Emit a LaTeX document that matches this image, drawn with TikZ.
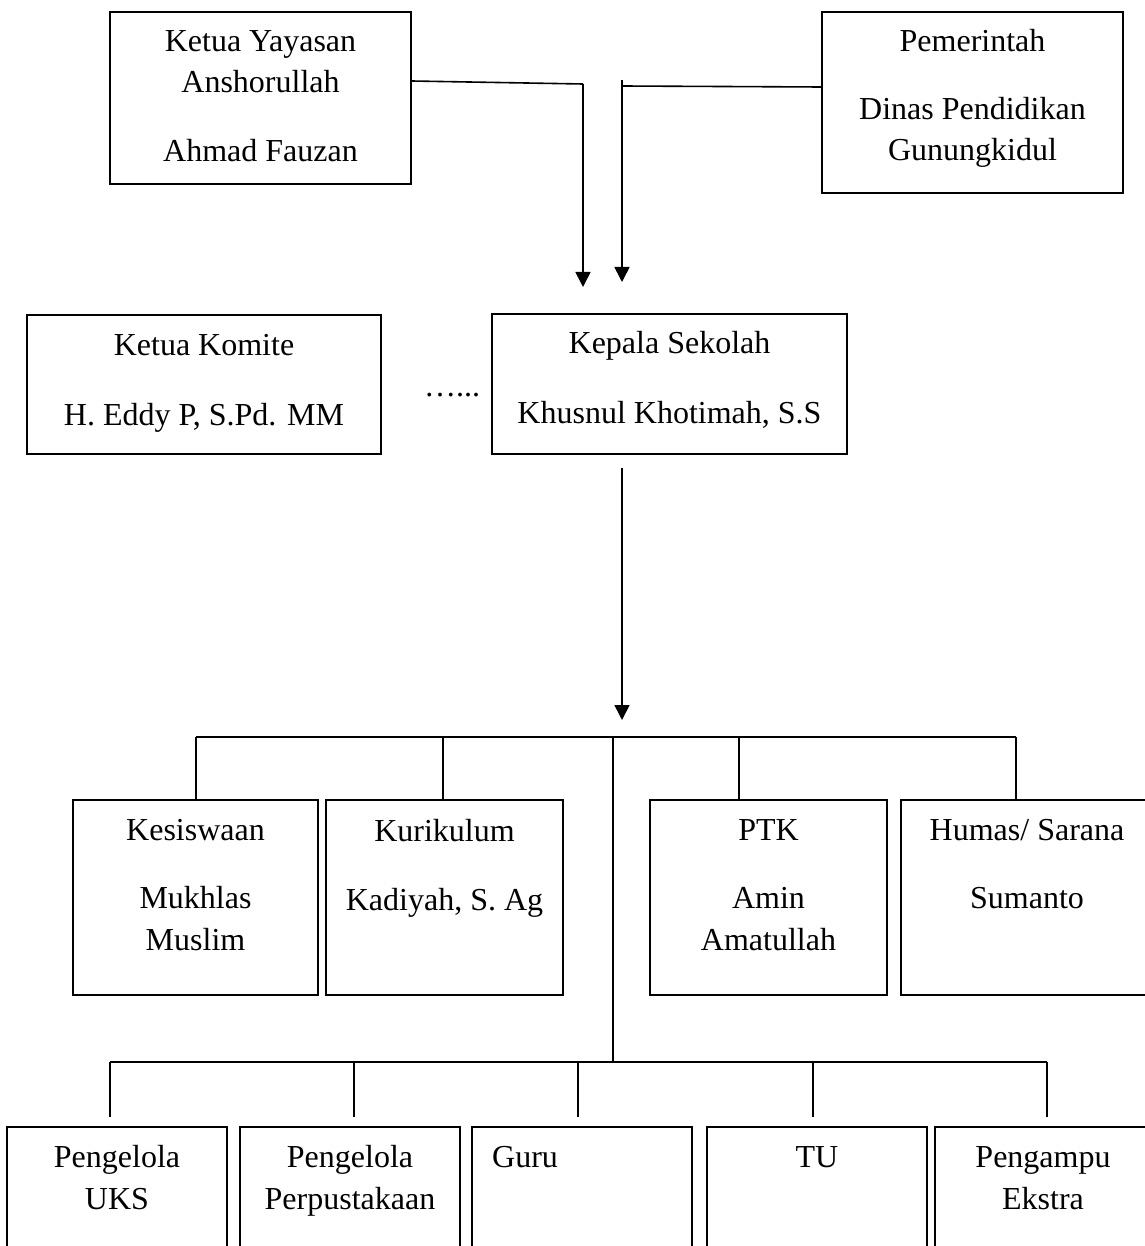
\documentclass[tikz,border=0pt]{standalone}
\usepackage{fontspec}
\setmainfont{Liberation Serif}
\usetikzlibrary{arrows.meta}
\begin{document}
\begin{tikzpicture}[x=1pt,y=-1pt,
  box/.style={draw, line width=1.6pt, inner sep=0pt},
  txt/.style={anchor=base, inner sep=0pt, font=\fontsize{32}{42}\selectfont},
  conn/.style={line width=1.6pt},
  arr/.style={line width=1.6pt, -{Triangle[width=15pt,length=15pt]}}]
\fill[white] (0,0) rectangle (1144,1246);
\useasboundingbox (0,0) rectangle (1144,1246);

% top boxes
\node[box, minimum width=301pt, minimum height=172pt] (yay) at (260.5,98) {};
\node[txt] (yay1) at (260.5,52) {Ketua Yayasan};
\node[txt] (yay2) at (260.5,93) {Anshorullah};
\node[txt] (yay3) at (260.5,162) {Ahmad Fauzan};

\node[box, minimum width=301pt, minimum height=181pt] (pem) at (972.5,102.5) {};
\node[txt] (pem1) at (972.5,52) {Pemerintah};
\node[txt] (pem2) at (972.5,120) {Dinas Pendidikan};
\node[txt] (pem3) at (972.5,161) {Gunungkidul};

% second row
\node[box, minimum width=354pt, minimum height=139pt] (kom) at (204,384.5) {};
\node[txt] (kom1) at (204,355) {Ketua Komite};
\node[txt] (kom2) at (204,425) {H. Eddy P, S.Pd. MM};

\node[txt, anchor=base west] (dots) at (424,396) {…...};

\node[box, minimum width=355pt, minimum height=140pt] (kep) at (669.5,384) {};
\node[txt] (kep1) at (669.5,353) {Kepala Sekolah};
\node[txt] (kep2) at (669.5,423) {Khusnul Khotimah, S.S};

% connectors from top
\coordinate (yayturn) at (583,84);
\coordinate (yaytip) at (583,287);
\coordinate (pemturn) at (622,86);
\coordinate (pemtop) at (622,80);
\coordinate (pemtip) at (622,282);
\draw[conn] (yay.east |- 0,81) -- (yayturn);
\draw[arr] (yayturn) -- (yaytip);
\draw[conn] (pem.west |- 0,87) -- (pemturn);
\draw[arr] (pemtop) -- (pemtip);

% kepala down arrow
\coordinate (kdown) at (622,468);
\coordinate (ktip) at (622,720);
\draw[arr] (kdown) -- (ktip);

% third row boxes
\node[box, minimum width=245pt, minimum height=195pt] (kes) at (195.5,897.5) {};
\node[txt] (kes1) at (195.5,840) {Kesiswaan};
\node[txt] (kes2) at (195.5,908) {Mukhlas};
\node[txt] (kes3) at (195.5,950) {Muslim};

\node[box, minimum width=237pt, minimum height=195pt] (kur) at (444.5,897.5) {};
\node[txt] (kur1) at (444.5,841) {Kurikulum};
\node[txt] (kur2) at (444.5,910) {Kadiyah, S. Ag};

\node[box, minimum width=237pt, minimum height=195pt] (ptk) at (768.5,897.5) {};
\node[txt] (ptk1) at (768.5,840) {PTK};
\node[txt] (ptk2) at (768.5,908) {Amin};
\node[txt] (ptk3) at (768.5,950) {Amatullah};

\node[box, minimum width=252pt, minimum height=195pt] (hum) at (1027,897.5) {};
\node[txt] (hum1) at (1027,840) {Humas/ Sarana};
\node[txt] (hum2) at (1027,908) {Sumanto};

% bus 1
\coordinate (busL) at (196,737);
\coordinate (busR) at (1016,737);
\coordinate (busC) at (613,737);
\draw[conn] (busL) -- (busR);
\draw[conn] (busL) -- (busL |- kes.north);
\draw[conn] (443,737) -- (443,800);
\draw[conn] (739,737) -- (739,800);
\draw[conn] (busR) -- (busR |- hum.north);

% bus 2
\coordinate (bus2L) at (110,1062);
\coordinate (bus2R) at (1047,1062);
\coordinate (bus2C) at (613,1062);
\draw[conn] (busC) -- (bus2C);
\draw[conn] (bus2L) -- (bus2R);
\foreach \xx in {110,354,578,813,1047} {
  \draw[conn] (\xx,1062) -- (\xx,1117);
}

% bottom boxes
\node[box, minimum width=220pt, minimum height=143pt] (b1) at (117,1198.5) {};
\node[txt] (b1a) at (117,1167) {Pengelola};
\node[txt] (b1b) at (117,1209) {UKS};

\node[box, minimum width=220pt, minimum height=143pt] (b2) at (350,1198.5) {};
\node[txt] (b2a) at (350,1167) {Pengelola};
\node[txt] (b2b) at (350,1209) {Perpustakaan};

\node[box, minimum width=220pt, minimum height=143pt] (b3) at (582,1198.5) {};
\node[txt, anchor=base west] (b3a) at (492,1167) {Guru};

\node[box, minimum width=220pt, minimum height=143pt] (b4) at (817,1198.5) {};
\node[txt] (b4a) at (817,1167) {TU};

\node[box, minimum width=216pt, minimum height=143pt] (b5) at (1043,1198.5) {};
\node[txt] (b5a) at (1043,1167) {Pengampu};
\node[txt] (b5b) at (1043,1209) {Ekstra};
\end{tikzpicture}
\end{document}
